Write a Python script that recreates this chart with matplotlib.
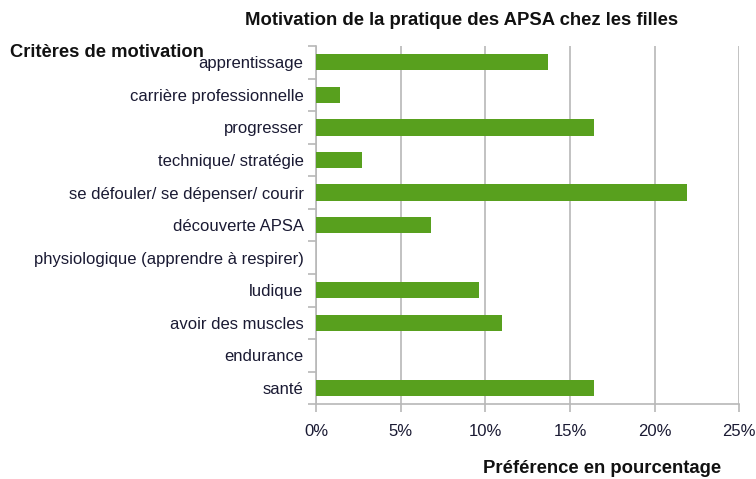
import numpy as np
import matplotlib.pyplot as plt
from matplotlib.ticker import PercentFormatter

plt.rcParams['font.family'] = ['Liberation Sans', 'DejaVu Sans']

criteres = ['apprentissage', 'carrière professionnelle', 'progresser',
            'technique/ stratégie', 'se défouler/ se dépenser/ courir',
            'découverte APSA', 'physiologique (apprendre à respirer)',
            'ludique', 'avoir des muscles', 'endurance', 'santé']
pourcentages = [13.7, 1.4, 16.4, 2.7, 21.9, 6.8, 0.0, 9.6, 11.0, 0.0, 16.4]
x_ticks = [0, 5, 10, 15, 20, 25]

fig = plt.figure(figsize=(7.56, 4.79), dpi=100)
ax = fig.add_axes([0.418, 0.156, 0.56, 0.748])

y = np.arange(len(criteres))
ax.barh(y, pourcentages, height=0.5, color='#58a01e', linewidth=0, zorder=3)

ax.set_ylim(len(criteres) - 0.5, -0.5)
ax.set_xlim(0, 25)
ax.set_xticks(x_ticks)
ax.xaxis.set_major_formatter(PercentFormatter(decimals=0))
ax.set_yticks(y)
ax.set_yticklabels(criteres)
ax.set_yticks(np.arange(len(criteres) + 1) - 0.5, minor=True)

ax.grid(axis='x', color='#b8b8b8', linewidth=1.2, zorder=0)
for s in ['top', 'right']:
    ax.spines[s].set_visible(False)
for s in ['left', 'bottom']:
    ax.spines[s].set_color('#b8b8b8')
    ax.spines[s].set_linewidth(1.2)

ax.tick_params(axis='y', which='major', length=0, pad=9, labelsize=12,
               labelcolor='#1a1a33')
ax.tick_params(axis='y', which='minor', length=6, color='#b8b8b8', width=1.2)
ax.tick_params(axis='x', length=6, color='#b8b8b8', width=1.2, pad=8,
               labelsize=12, labelcolor='#1a1a33')

fig.text(0.61, 0.957, 'Motivation de la pratique des APSA chez les filles',
         ha='center', va='center', fontsize=13.3, fontweight='bold', color='#111111')
fig.text(0.013, 0.89, 'Critères de motivation', ha='left', va='center',
         fontsize=13.2, fontweight='bold', color='#111111')
fig.text(0.796, 0.022, 'Préférence en pourcentage', ha='center', va='center',
         fontsize=13.3, fontweight='bold', color='#111111')

fig.savefig('out.png', dpi=100)
